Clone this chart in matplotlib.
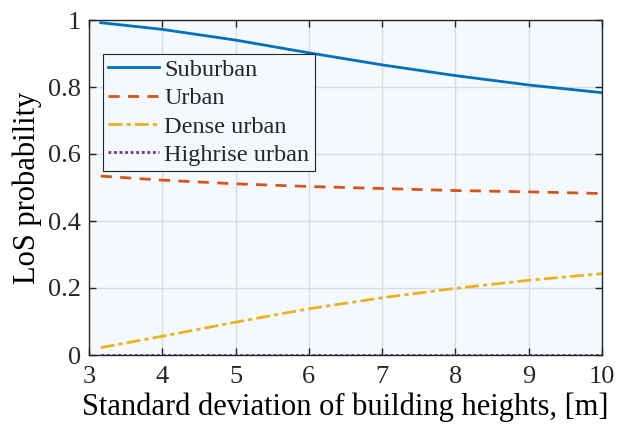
import numpy as np
import matplotlib.pyplot as plt

plt.rcParams['font.family'] = ['Liberation Serif', 'DejaVu Serif']
plt.rcParams['mathtext.fontset'] = 'stix'
plt.rcParams['text.color'] = '#262626'
plt.rcParams['xtick.labelcolor'] = '#262626'
plt.rcParams['ytick.labelcolor'] = '#262626'

# standard deviation of building heights [m]
sigma = [3.16, 4, 5, 6, 7, 8, 9, 10]

p_suburban = [0.992, 0.972, 0.940, 0.902, 0.866, 0.834, 0.806, 0.783]
p_urban = [0.534, 0.522, 0.511, 0.503, 0.497, 0.491, 0.487, 0.482]
p_dense = [0.022, 0.056, 0.098, 0.138, 0.171, 0.199, 0.223, 0.243]
p_highrise = [0.0, 0.0, 0.0, 0.0, 0.0, 0.0, 0.0, 0.0]

labels = ['Suburban', 'Urban', 'Dense urban', 'Highrise urban']

fig = plt.figure(figsize=(6.23, 4.32), dpi=100)
ax = fig.add_axes([89 / 623, 77 / 432, 513 / 623, 335 / 432])
ax.set_facecolor('#f3f9fc')

ax.plot(sigma, p_suburban, '-', color='#0072bd', lw=2, label=labels[0])
ax.plot(sigma, p_urban, '--', color='#d95319', lw=2, dashes=(4, 3), label=labels[1])
ax.plot(sigma, p_dense, '-.', color='#edb120', lw=2, dashes=(5, 1.5, 1.5, 1.5), label=labels[2])
ax.plot(sigma, p_highrise, ':', color='#7e2f8e', lw=2, dashes=(1, 1), label=labels[3])

ax.set_xlim(3, 10)
ax.set_ylim(0, 1)
ax.set_xticks(range(3, 11))
ax.set_yticks([0, 0.2, 0.4, 0.6, 0.8, 1])
ax.set_yticklabels(['0', '0.2', '0.4', '0.6', '0.8', '1'])
ax.grid(True, color='#d9dcdf', lw=1)
ax.set_axisbelow(True)
ax.tick_params(direction='in', length=5, width=1, labelsize=19, color='#262626',
               top=True, right=True)
ax.tick_params(axis='x', pad=8)
ax.tick_params(axis='y', pad=6)
for s in ax.spines.values():
    s.set_color('#262626')
    s.set_linewidth(1)

ax.set_xlabel('Standard deviation of building heights, [m]', fontsize=22, labelpad=3)
ax.set_ylabel('LoS probability', fontsize=22, labelpad=4)

leg = ax.legend(loc='upper left', bbox_to_anchor=(0.027, 0.9), fontsize=17.5,
                frameon=True, fancybox=False, framealpha=1, handlelength=2.1,
                handletextpad=0.2, borderpad=0.22, labelspacing=0.26,
                borderaxespad=0)
leg.get_frame().set_facecolor('#f3f9fc')
leg.get_frame().set_edgecolor('#262626')
leg.get_frame().set_linewidth(0.8)

fig.savefig('out.png', dpi=100)
